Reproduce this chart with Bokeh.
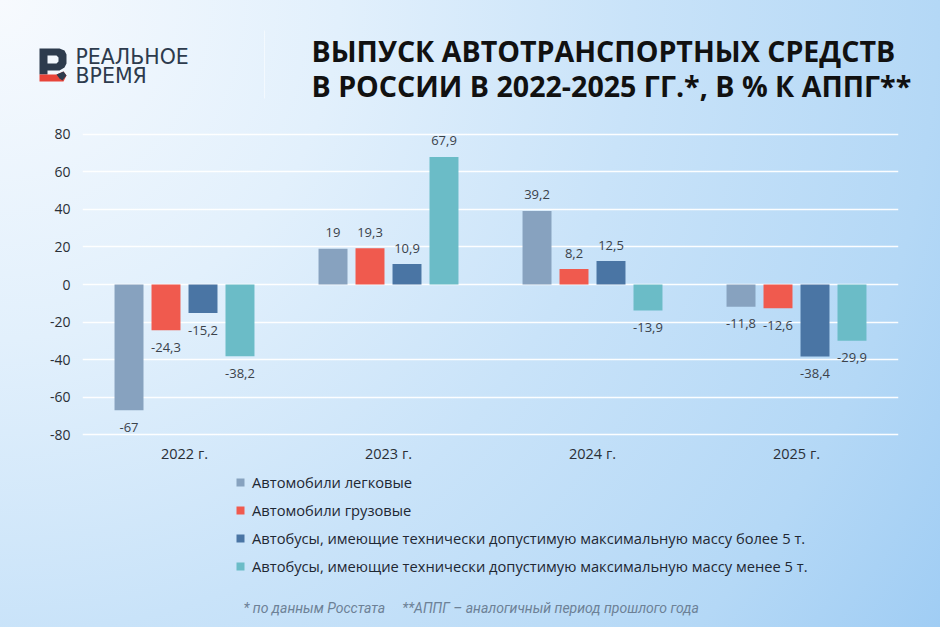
from bokeh.plotting import figure
from bokeh.models import (FactorRange, Range1d, FixedTicker, Legend, LegendItem,
                          ColumnDataSource, PrintfTickFormatter)
from bokeh.layouts import column
from bokeh.transform import dodge
from bokeh.core.properties import value
from bokeh.embed import file_html
from bokeh.resources import INLINE

# ---------------- data ----------------
years = ["2022 г.", "2023 г.", "2024 г.", "2025 г."]
series_names = [
    "Автомобили легковые",
    "Автомобили грузовые",
    "Автобусы, имеющие технически допустимую максимальную массу более 5 т.",
    "Автобусы, имеющие технически допустимую максимальную массу менее 5 т.",
]
cars = [-67, 19, 39.2, -11.8]
trucks = [-24.3, 19.3, 8.2, -12.6]
buses_big = [-15.2, 10.9, 12.5, -38.4]
buses_small = [-38.2, 67.9, -13.9, -29.9]
y_ticks = [-80, -60, -40, -20, 0, 20, 40, 60, 80]
title_lines = ["ВЫПУСК АВТОТРАНСПОРТНЫХ СРЕДСТВ", "В РОССИИ В 2022-2025 ГГ.*, В % К АППГ**"]
footnote = "* по данным Росстата\u00a0\u00a0\u00a0\u00a0 **АППГ – аналогичный период прошлого года"
logo_lines = ["РЕАЛЬНОЕ", "ВРЕМЯ"]

colors = ["#87a2bf", "#f05a4e", "#4a75a4", "#6bbcc7"]
FONT = "Open Sans"
NAVY = "#2d3b4d"
TOTAL_W, TOTAL_H = 940, 627
HDR_H, MAIN_H = 115, 350
FTR_H = TOTAL_H - HDR_H - MAIN_H


def blank(h, y0):
    f = figure(width=TOTAL_W, height=h, x_range=Range1d(0, TOTAL_W), y_range=Range1d(y0 + h, y0),
               output_backend="svg", toolbar_location=None,
               x_axis_location=None, y_axis_location=None,
               min_border_left=0, min_border_right=0, min_border_top=0, min_border_bottom=0)
    f.grid.visible = False
    f.background_fill_color = None
    f.border_fill_color = None
    f.outline_line_color = None
    f.frame_align = False
    return f


# ---------------- header ----------------
hdr = blank(HDR_H, 0)
hdr.text(x=[311, 311], y=[50, 85], text=title_lines, text_font=value(FONT),
         text_font_size="28.6px", text_font_style="bold", text_color="#111111",
         text_baseline="middle", text_align="left")
hdr.text(x=[75, 75], y=[56, 75], text=logo_lines, text_font=value("DejaVu Sans"),
         text_font_size="20.5px", text_color=NAVY, text_baseline="middle", text_align="left")
# logo mark (decorative)
hdr.multi_polygons(
    xs=[[[[39, 59, 64, 66, 66, 64, 59, 47, 47, 39], [47, 56, 58, 58, 56, 47]]]],
    ys=[[[[48, 48, 50, 54, 63, 67, 70, 70, 74, 74], [55, 55, 57, 61, 63, 63]]]],
    fill_color=NAVY, line_color=None)
hdr.patch(x=[39, 56, 63, 66, 63, 39], y=[74, 74, 71, 75, 81, 81], fill_color="#e8443a", line_color=None)
hdr.patch(x=[56, 63, 66, 62, 59], y=[74, 71, 75, 80, 78], fill_color=NAVY, line_color=None)
hdr.segment(x0=[264], y0=[30], x1=[264], y1=[98], line_color="white", line_alpha=0.5, line_width=1)

# ---------------- main chart ----------------
ML, MR, MT, MB = 82, 42, 15, 26
p = figure(width=TOTAL_W, height=MAIN_H, x_range=FactorRange(*years), y_range=Range1d(-82, 82),
           output_backend="svg", toolbar_location=None,
           min_border_left=ML, min_border_right=MR, min_border_top=MT, min_border_bottom=MB)
p.background_fill_color = None
p.border_fill_color = None
p.outline_line_color = None
p.frame_align = False

p.yaxis.ticker = FixedTicker(ticks=y_ticks)
p.yaxis.formatter = PrintfTickFormatter(format="%d")
for ax in (p.xaxis, p.yaxis):
    ax.axis_line_color = None
    ax.major_tick_line_color = None
    ax.minor_tick_line_color = None
    ax.major_tick_out = 0
    ax.major_tick_in = 0
    ax.major_label_text_font = FONT
    ax.major_label_text_font_size = "14px"
    ax.major_label_text_color = "#2a2f36"
p.xaxis.major_label_text_font_size = "14.5px"
p.yaxis.major_label_standoff = 12
p.xaxis.major_label_standoff = 5
p.xgrid.grid_line_color = None
p.ygrid.ticker = FixedTicker(ticks=y_ticks)
p.ygrid.grid_line_color = "white"
p.ygrid.grid_line_width = 1.6
p.ygrid.grid_line_alpha = 0.95

all_series = [cars, trucks, buses_big, buses_small]
offsets = [-0.272, -0.0907, 0.0907, 0.272]
bar_w = 0.142


def fmt(v):
    return f"{v:g}".replace(".", ",")


for vals, off, col in zip(all_series, offsets, colors):
    src = ColumnDataSource(dict(x=years, top=vals,
                                lab=[fmt(v) for v in vals],
                                yoff=[-16 if v >= 0 else 17 for v in vals]))
    p.vbar(x=dodge("x", off, range=p.x_range), top="top", bottom=0, width=bar_w,
           source=src, fill_color=col, line_color=None)
    p.text(x=dodge("x", off, range=p.x_range), y="top", text="lab", y_offset="yoff",
           source=src, text_align="center", text_baseline="middle",
           text_font=value(FONT), text_font_size="13px", text_color="#3b424a")

# ---------------- footer: legend + footnote ----------------
y0 = HDR_H + MAIN_H
ftr = blank(FTR_H, y0)
# legend proxies placed outside the visible range
proxies = [ftr.scatter(x=[-100], y=[-100], marker="square", fill_color=c, line_color=None)
           for c in colors]
legend = Legend(items=[LegendItem(label=n, renderers=[r]) for n, r in zip(series_names, proxies)],
                location=(230, FTR_H - (576 - y0)),
                glyph_width=20, glyph_height=20, label_height=20, spacing=8,
                label_standoff=2, padding=0, margin=0,
                background_fill_alpha=0, border_line_color=None,
                label_text_font=FONT, label_text_font_size="14.7px", label_text_color="#1f2833")
ftr.add_layout(legend)
ftr.text(x=[243], y=[607], text=[footnote], text_font=value("Roboto"),
         text_font_size="14px", text_font_style="italic", text_color="#6d8196",
         text_baseline="middle", text_align="left")

layout = column(hdr, p, ftr, spacing=0)
layout.styles = {"background": "radial-gradient(circle farthest-corner at 0% 0%, #f7fafe 0%, "
                               "#e2f0fc 30%, #c9e3f9 56%, #b4d8f6 83%, #a0cdf4 100%)"}

open("out.html", "w").write(file_html(layout, INLINE))
